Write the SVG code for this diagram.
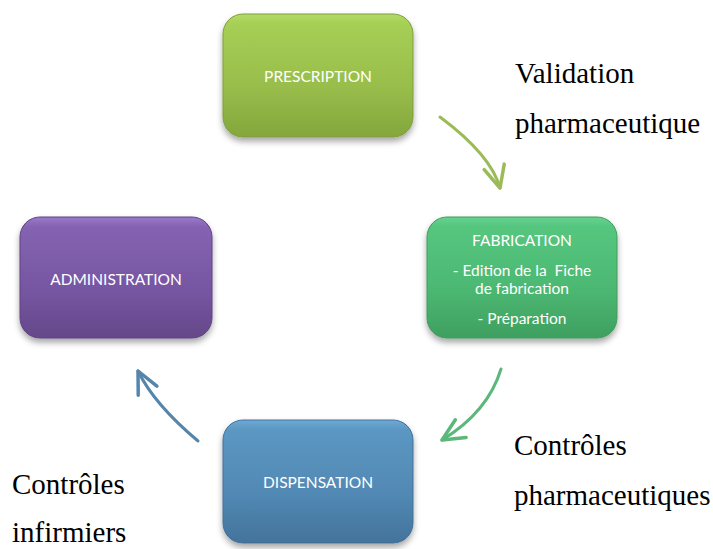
<svg xmlns="http://www.w3.org/2000/svg" width="713" height="549" viewBox="0 0 713 549">
<style>
.box{stroke-width:1}
.bt{font-family:Lato,"Open Sans","Liberation Sans",sans-serif;font-size:15.5px;fill:#ffffff;text-anchor:middle;white-space:pre}
.lbl{font-family:"Liberation Serif","Times New Roman",serif;font-size:29px;fill:#000000}
.con{fill:none;stroke-width:3;stroke-linecap:round}
</style>
<defs>
<linearGradient id="gGreen" x1="0" y1="0" x2="0" y2="1">
<stop offset="0" stop-color="#b3da67"/><stop offset="0.08" stop-color="#a6cf55"/><stop offset="0.6" stop-color="#98bd4b"/><stop offset="1" stop-color="#84a63c"/>
</linearGradient>
<linearGradient id="gFab" x1="0" y1="0" x2="0" y2="1">
<stop offset="0" stop-color="#66d28e"/><stop offset="0.08" stop-color="#55c67f"/><stop offset="0.6" stop-color="#4cb872"/><stop offset="1" stop-color="#3f9f60"/>
</linearGradient>
<linearGradient id="gPur" x1="0" y1="0" x2="0" y2="1">
<stop offset="0" stop-color="#9a7acb"/><stop offset="0.08" stop-color="#8563b2"/><stop offset="0.6" stop-color="#7656a2"/><stop offset="1" stop-color="#654889"/>
</linearGradient>
<linearGradient id="gBlue" x1="0" y1="0" x2="0" y2="1">
<stop offset="0" stop-color="#6ea9d6"/><stop offset="0.08" stop-color="#5b97c2"/><stop offset="0.6" stop-color="#5189b4"/><stop offset="1" stop-color="#43739b"/>
</linearGradient>
<filter id="sh" x="-10%" y="-10%" width="120%" height="130%">
<feDropShadow dx="0" dy="4" stdDeviation="3" flood-color="#000" flood-opacity="0.35"/>
</filter>
<marker id="ahG1" markerUnits="userSpaceOnUse" markerWidth="30" markerHeight="30" viewBox="-22 -12 26 24" refX="0" refY="0" orient="auto">
<path d="M-19,-9 L0,0 L-19,9" fill="none" stroke="#9bbb59" stroke-width="3" stroke-linecap="round" stroke-linejoin="round"/>
</marker>
<marker id="ahG2" markerUnits="userSpaceOnUse" markerWidth="30" markerHeight="30" viewBox="-22 -12 26 24" refX="0" refY="0" orient="auto">
<path d="M-19,-9 L0,0 L-19,9" fill="none" stroke="#5cb77a" stroke-width="3" stroke-linecap="round" stroke-linejoin="round"/>
</marker>
<marker id="ahB" markerUnits="userSpaceOnUse" markerWidth="30" markerHeight="30" viewBox="-22 -12 26 24" refX="0" refY="0" orient="auto">
<path d="M-19,-9 L0,0 L-19,9" fill="none" stroke="#5585ab" stroke-width="3" stroke-linecap="round" stroke-linejoin="round"/>
</marker>
</defs>
<rect width="713" height="549" fill="#ffffff"/>

<g id="connectors">
<path class="con" d="M440,117 Q491,155 500,188" stroke="#9bbb59" marker-end="url(#ahG1)"/>
<path class="con" d="M501,369 Q488,412 442,440" stroke="#5cb77a" marker-end="url(#ahG2)"/>
<path class="con" d="M198,441 Q154,404 138,371" stroke="#5585ab" marker-end="url(#ahB)"/>
</g>

<g id="prescription">
<rect class="box" x="223" y="14" width="190" height="123" rx="20" fill="url(#gGreen)" stroke="#7f9f3a" filter="url(#sh)"/>
<text class="bt" x="318" y="82">PRESCRIPTION</text>
</g>

<g id="fabrication">
<rect class="box" x="427" y="217" width="190" height="121" rx="20" fill="url(#gFab)" stroke="#3f9c5e" filter="url(#sh)"/>
<text class="bt" x="522" y="246">FABRICATION</text>
<text class="bt" x="522" y="276" xml:space="preserve">- Edition de la  Fiche</text>
<text class="bt" x="522" y="294">de fabrication</text>
<text class="bt" x="522" y="324">- Préparation</text>
</g>

<g id="administration">
<rect class="box" x="20" y="217" width="192" height="121" rx="20" fill="url(#gPur)" stroke="#5f4383" filter="url(#sh)"/>
<text class="bt" x="116" y="285">ADMINISTRATION</text>
</g>

<g id="dispensation">
<rect class="box" x="223" y="420" width="190" height="123" rx="20" fill="url(#gBlue)" stroke="#41709a" filter="url(#sh)"/>
<text class="bt" x="318" y="488">DISPENSATION</text>
</g>

<g id="labels">
<text class="lbl" x="515" y="83">Validation</text>
<text class="lbl" x="515" y="133">pharmaceutique</text>
<text class="lbl" x="514" y="455">Contrôles</text>
<text class="lbl" x="514" y="505">pharmaceutiques</text>
<text class="lbl" x="12" y="494">Contrôles</text>
<text class="lbl" x="12" y="542">infirmiers</text>
</g>
</svg>
